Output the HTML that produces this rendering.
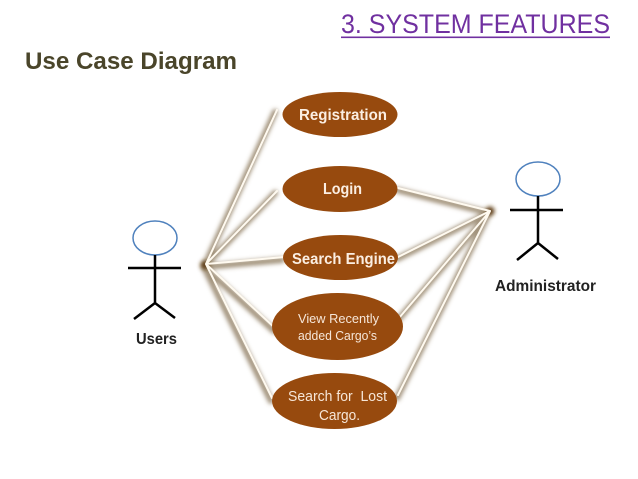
<!DOCTYPE html>
<html>
<head>
<meta charset="utf-8">
<style>
html,body{margin:0;padding:0;background:#fff;width:638px;height:479px;overflow:hidden}
svg{display:block}
text{font-family:"Liberation Sans",sans-serif;white-space:pre}
</style>
</head>
<body>
<svg width="638" height="479" viewBox="0 0 638 479" xmlns="http://www.w3.org/2000/svg">
<defs>
<filter id="b" filterUnits="userSpaceOnUse" x="150" y="60" width="400" height="380"><feGaussianBlur stdDeviation="2"/></filter>
<filter id="b2" filterUnits="userSpaceOnUse" x="150" y="160" width="400" height="160"><feGaussianBlur stdDeviation="2.200"/></filter>
</defs>
<rect width="638" height="479" fill="#fff"/>

<text x="341" y="33" font-size="27" fill="#7030a0" textLength="269" lengthAdjust="spacingAndGlyphs">3. SYSTEM FEATURES</text>
<rect x="341" y="36.500" width="269" height="1.600" fill="#7030a0"/>
<text x="25" y="69" font-size="24" font-weight="bold" fill="#4a452a" textLength="212" lengthAdjust="spacingAndGlyphs">Use Case Diagram</text>

<!-- connector shadows -->
<g stroke="#7a6444" stroke-opacity="0.7" stroke-width="6" fill="none" filter="url(#b)" stroke-linecap="round">
<path d="M204 267L275 112M204 267L275 193M204 267L282 260M204 267L274 331M204 267L271 401"/>
<path d="M489 213L397 190M489 213L397 259M489 213L398 320M489 213L397 398"/>
</g>
<circle cx="205" cy="265" r="4.500" fill="#5f3d12" filter="url(#b2)"/>
<circle cx="490" cy="211" r="4.500" fill="#5f3d12" filter="url(#b2)"/>
<!-- connector highlights -->
<g stroke="#fffaf0" stroke-width="2" fill="none" stroke-linecap="round">
<path d="M206 264L277 110M206 264L277 191M206 264L284 257M206 264L276 329M206 264L272 398"/>
<path d="M490 211L398 188M490 211L398 257M490 211L399 318M490 211L398 395"/>
</g>

<!-- use cases -->
<g fill="#974a0e">
<ellipse cx="340" cy="114.500" rx="57.500" ry="22.500"/>
<ellipse cx="340" cy="189" rx="57.500" ry="23"/>
<ellipse cx="340.500" cy="257.500" rx="57.500" ry="22.500"/>
<ellipse cx="337.500" cy="326.500" rx="65.500" ry="33.500"/>
<ellipse cx="334.500" cy="401" rx="62.500" ry="28"/>
</g>
<g>
<text x="299" y="120" font-size="16" font-weight="bold" fill="#fbeee2" textLength="88" lengthAdjust="spacingAndGlyphs">Registration</text>
<text x="323" y="194" font-size="16" font-weight="bold" fill="#fbeee2" textLength="39" lengthAdjust="spacingAndGlyphs">Login</text>
<text x="292" y="264" font-size="16" font-weight="bold" fill="#fbeee2" textLength="103" lengthAdjust="spacingAndGlyphs">Search Engine</text>
<text x="298" y="323" font-size="13" fill="#f6e6d8" textLength="81" lengthAdjust="spacingAndGlyphs">View Recently</text>
<text x="298" y="340" font-size="13" fill="#f6e6d8" textLength="79" lengthAdjust="spacingAndGlyphs">added Cargo’s</text>
<text x="288" y="401" font-size="14.500" fill="#f6e6d8" textLength="99" lengthAdjust="spacingAndGlyphs">Search for  Lost</text>
<text x="319" y="420" font-size="14.500" fill="#f6e6d8" textLength="41" lengthAdjust="spacingAndGlyphs">Cargo.</text>
</g>

<!-- Users actor -->
<ellipse cx="155" cy="238" rx="22" ry="17" fill="#fff" stroke="#4f81bd" stroke-width="1.500"/>
<g stroke="#000" stroke-width="2.500" fill="none">
<path d="M155 255V303M128 268H181M155 303L134 319M155 303L175 318"/>
</g>
<text x="136" y="344" font-size="16" font-weight="bold" fill="#222" textLength="41" lengthAdjust="spacingAndGlyphs">Users</text>

<!-- Administrator actor -->
<ellipse cx="538" cy="179" rx="22" ry="17" fill="#fff" stroke="#4f81bd" stroke-width="1.500"/>
<g stroke="#000" stroke-width="2.500" fill="none">
<path d="M538 196V243M510 210H563M538 243L517 260M538 243L558 259"/>
</g>
<text x="495" y="291" font-size="16" font-weight="bold" fill="#222" textLength="101" lengthAdjust="spacingAndGlyphs">Administrator</text>
</svg>
</body>
</html>
